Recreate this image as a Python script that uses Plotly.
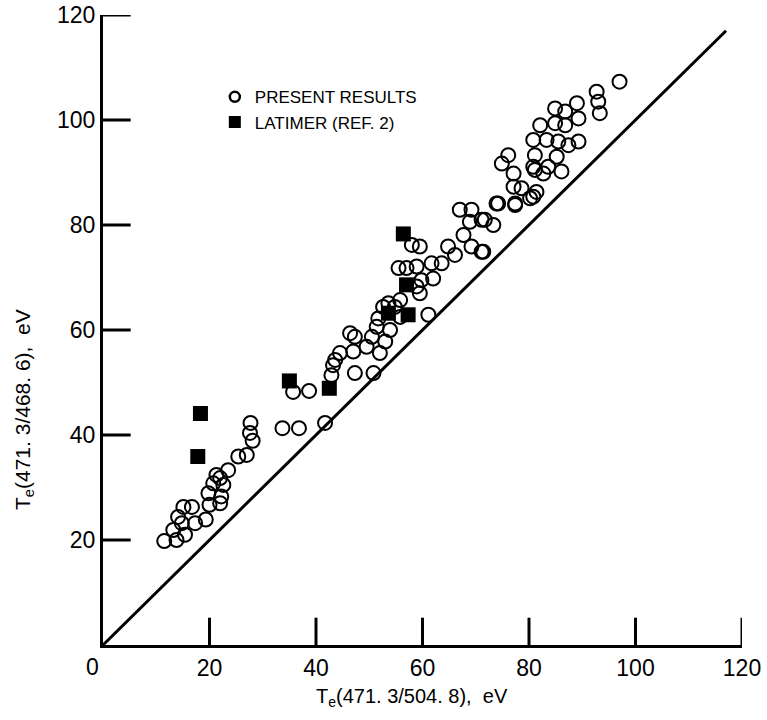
import plotly.graph_objects as go

# ---- data ----
present_x = [11.5, 13.2, 14.8, 15.4, 13.8, 15.1, 16.7, 17.3, 19.3, 20.0, 19.8, 20.7, 22.0, 22.2, 23.5,
             22.6, 25.4, 27.0, 27.7, 27.6, 28.1, 33.7, 36.8, 41.7, 35.7, 38.7, 42.9, 43.2, 47.3, 14.1,
             21.3, 22.0, 43.6, 50.8, 47.3, 47.0, 49.5, 50.5, 52.0, 53.0, 51.7, 52.6, 54.8, 55.8, 61.1,
             55.5, 57.0, 58.9, 61.7, 63.6, 62.0, 59.5, 59.8, 58.0, 59.5, 64.8, 66.1, 67.7, 69.2, 71.1,
             67.0, 69.2, 68.9, 71.1, 73.3, 74.2, 77.4, 77.1, 78.6, 80.8, 74.9, 77.1, 80.8, 82.7, 44.5,
             46.4, 51.4, 53.9, 53.6, 55.8, 58.9, 97.0, 92.7, 93.0, 93.3, 89.0, 89.3, 84.9, 86.8, 82.1,
             84.9, 86.8, 80.8, 83.3, 85.5, 87.4, 89.3, 81.1, 85.2, 76.1, 81.1, 83.6, 86.1, 81.4, 80.2,
             73.9, 77.4, 71.7, 71.4]
present_y = [19.8, 21.9, 23.2, 21.0, 20.0, 26.3, 26.3, 23.2, 23.9, 26.7, 28.9, 30.8, 31.8, 28.3, 33.3,
             30.5, 35.9, 36.2, 42.3, 40.4, 38.9, 41.3, 41.3, 42.3, 48.2, 48.4, 51.4, 53.3, 51.8, 24.4,
             32.4, 27.0, 54.3, 51.8, 58.7, 55.9, 56.8, 58.7, 55.6, 57.8, 62.2, 64.4, 64.4, 62.5, 62.9,
             71.8, 71.8, 72.1, 72.7, 72.7, 69.8, 67.0, 69.5, 76.2, 75.9, 75.9, 74.3, 78.1, 75.9, 74.9,
             82.9, 82.9, 80.6, 81.0, 80.0, 84.1, 84.1, 87.3, 87.0, 85.4, 91.7, 89.8, 91.1, 89.8, 55.6,
             59.4, 60.6, 60.0, 65.1, 65.7, 68.3, 107.3, 105.4, 103.5, 101.3, 103.2, 100.3, 102.2, 101.6, 99.0,
             99.4, 99.0, 96.2, 96.2, 95.9, 95.2, 95.9, 93.3, 93.0, 93.3, 90.5, 91.1, 90.2, 86.3, 85.1,
             84.1, 83.8, 81.0, 74.9]

latimer_x = [18.3, 17.8, 35.0, 42.5, 56.4, 57.0, 57.3, 53.6]
latimer_y = [44.1, 35.9, 50.3, 48.9, 78.3, 68.6, 62.9, 63.2]

equality_line = [0, 117]

x_ticks = [20, 40, 60, 80, 100, 120]
y_ticks = [20, 40, 60, 80, 100, 120]
origin_label = "0"
tick_len_units = 5.2   # inward tick length, in data units

FONT = "Liberation Sans, Arial, sans-serif"

fig = go.Figure()

fig.add_trace(go.Scatter(x=equality_line, y=equality_line, mode="lines",
                         line=dict(color="black", width=3), showlegend=False, hoverinfo="skip"))

fig.add_trace(go.Scatter(x=present_x, y=present_y, mode="markers", showlegend=False,
                         marker=dict(symbol="circle-open", size=14, color="black",
                                     line=dict(width=2, color="black"))))

fig.add_trace(go.Scatter(x=latimer_x, y=latimer_y, mode="markers", showlegend=False,
                         marker=dict(symbol="square", size=15, color="black")))

# legend-only entries
fig.add_trace(go.Scatter(x=[None], y=[None], mode="markers", name="PRESENT RESULTS",
                         marker=dict(symbol="circle-open", size=10, color="black",
                                     line=dict(width=2.5, color="black"))))
fig.add_trace(go.Scatter(x=[None], y=[None], mode="markers", name="LATIMER (REF. 2)",
                         marker=dict(symbol="square", size=12, color="black")))

# inward tick marks
shapes = []
for t in x_ticks:
    shapes.append(dict(type="line", xref="x", yref="y", x0=t, x1=t, y0=0, y1=tick_len_units,
                       line=dict(color="black", width=3), layer="above"))
for t in y_ticks:
    shapes.append(dict(type="line", xref="x", yref="y", x0=0, x1=tick_len_units, y0=t, y1=t,
                       line=dict(color="black", width=3), layer="above"))

fig.update_layout(
    width=767, height=720,
    margin=dict(l=103, r=25, t=15, b=75, autoexpand=False),
    paper_bgcolor="white", plot_bgcolor="white",
    font=dict(family=FONT, size=22, color="black"),
    legend=dict(x=0.175, y=0.898, xanchor="left", yanchor="top",
                bgcolor="rgba(0,0,0,0)", borderwidth=0,
                font=dict(family=FONT, size=17, color="black")),
    xaxis=dict(range=[0, 120], tickvals=x_ticks, ticks="",
               showline=True, linewidth=3, linecolor="black",
               showgrid=False, zeroline=False, automargin=False,
               tickfont=dict(family=FONT, size=23, color="black")),
    yaxis=dict(range=[0, 120], tickvals=y_ticks, ticks="",
               showline=True, linewidth=3, linecolor="black",
               showgrid=False, zeroline=False, automargin=False,
               tickfont=dict(family=FONT, size=23, color="black")),
    shapes=shapes,
    annotations=[
        dict(text=origin_label, xref="paper", yref="paper",
             x=(92 - 103) / 639, y=(645 - 667) / 630, xanchor="center", yanchor="middle",
             showarrow=False, font=dict(family=FONT, size=23, color="black")),
        dict(text="T<sub>e</sub>(471. 3/504. 8),  eV", xref="paper", yref="paper",
             x=(412 - 103) / 639, y=(645 - 697) / 630, xanchor="center", yanchor="middle",
             showarrow=False, font=dict(family=FONT, size=20, color="black")),
        dict(text="T<sub>e</sub>(471. 3/468. 6),  eV", xref="paper", yref="paper",
             x=(24 - 103) / 639, y=(645 - 410) / 630, xanchor="center", yanchor="middle",
             textangle=-90, showarrow=False, font=dict(family=FONT, size=21, color="black")),
    ],
)

fig.write_html("out.html", config={"displayModeBar": False},
               post_script="document.body.style.margin='0';")
